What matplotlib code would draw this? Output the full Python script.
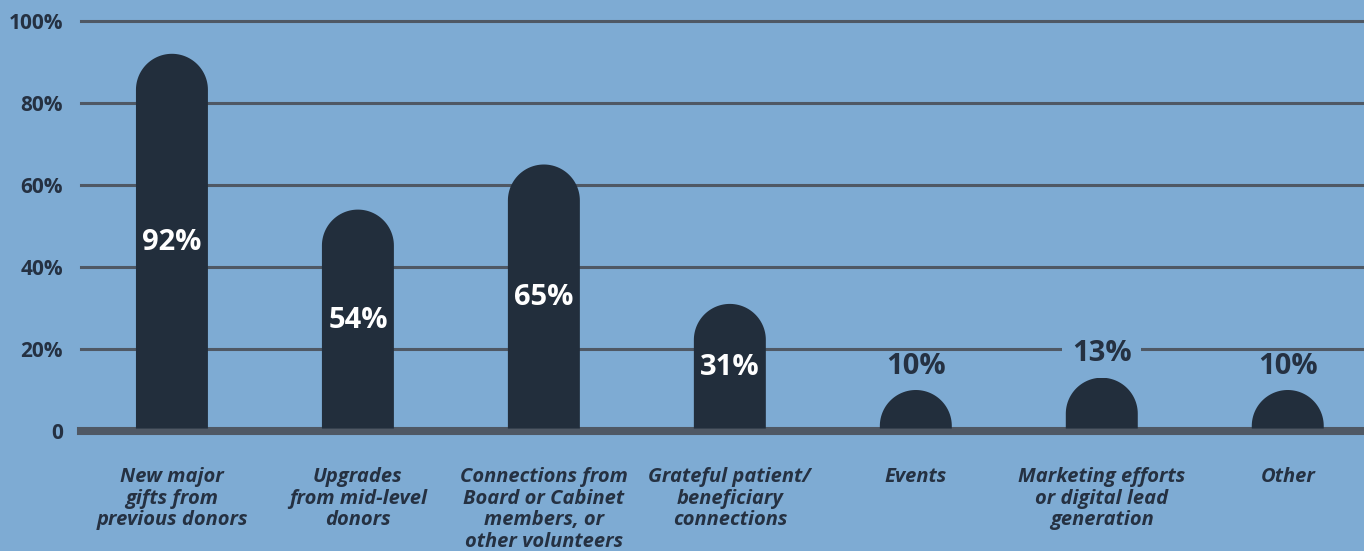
import matplotlib
matplotlib.use("Agg")
import numpy as np
import matplotlib.pyplot as plt
from matplotlib.path import Path
from matplotlib.patches import PathPatch

categories = [
    "New major\ngifts from\nprevious donors",
    "Upgrades\nfrom mid-level\ndonors",
    "Connections from\nBoard or Cabinet\nmembers, or\nother volunteers",
    "Grateful patient/\nbeneficiary\nconnections",
    "Events",
    "Marketing efforts\nor digital lead\ngeneration",
    "Other",
]
values = [92, 54, 65, 31, 10, 13, 10]
yticks = [0, 20, 40, 60, 80, 100]
ytick_labels = ["0", "20%", "40%", "60%", "80%", "100%"]

BG = "#7eabd3"
BAR = "#222e3c"
GRID = "#4f5864"
TEXT = "#253142"
FONT = "Open Sans"

W, H = 1364, 551
fig = plt.figure(figsize=(W / 100, H / 100), dpi=100)
fig.patch.set_facecolor(BG)
ax = fig.add_axes([81 / W, (H - 431) / H, (W - 81) / W, 410 / H])
ax.set_facecolor(BG)
ax.set_xlim(-0.489, 6.41)
ax.set_ylim(0, 100)
for s in ax.spines.values():
    s.set_visible(False)

# gridlines and heavy baseline
for t in yticks[1:]:
    ax.axhline(t, color=GRID, lw=2.2, zorder=1, clip_on=False)
ax.axhline(0, color=GRID, lw=5.8, zorder=1, clip_on=False)

# pill-topped bars
bar_w = 0.387
half = bar_w / 2
px_per_unit = 410 / 100
ry = 36 / px_per_unit
theta = np.linspace(np.pi, 0, 60)
for i, v in enumerate(values):
    base = 0.6
    cy = v - ry
    verts = [(i - half, base), (i - half, cy)]
    verts += [(i + half * np.cos(t), cy + ry * np.sin(t)) for t in theta]
    verts += [(i + half, base), (i - half, base)]
    codes = [Path.MOVETO] + [Path.LINETO] * (len(verts) - 2) + [Path.CLOSEPOLY]
    ax.add_patch(PathPatch(Path(verts, codes), facecolor=BAR, edgecolor="none", zorder=2))

    label = f"{v}%"
    if v >= 20:
        ax.text(i, v / 2, label, ha="center", va="center", color="white",
                fontsize=21, fontweight="bold", family=FONT, zorder=3)
    else:
        ly = v + 5.8
        # knock out a gridline running through the label
        near_grid = any(abs(ly - t) < 3 for t in yticks[1:])
        box = dict(facecolor=BG, edgecolor="none", pad=7) if near_grid else None
        ax.text(i, ly, label, ha="center", va="center", color=TEXT,
                fontsize=21, fontweight="bold", family=FONT, zorder=3, bbox=box)

ax.set_yticks(yticks)
ax.set_yticklabels(ytick_labels, fontsize=15, fontweight="bold", color=TEXT, family=FONT)
ax.tick_params(axis="y", length=0, pad=13)

ax.set_xticks(range(len(categories)))
ax.set_xticklabels(categories, fontsize=14.5, style="italic", fontweight="bold",
                   color=TEXT, family=FONT, linespacing=1.1, va="top")
ax.tick_params(axis="x", length=0, pad=26)

fig.savefig("out.png", dpi=100, facecolor=BG)
